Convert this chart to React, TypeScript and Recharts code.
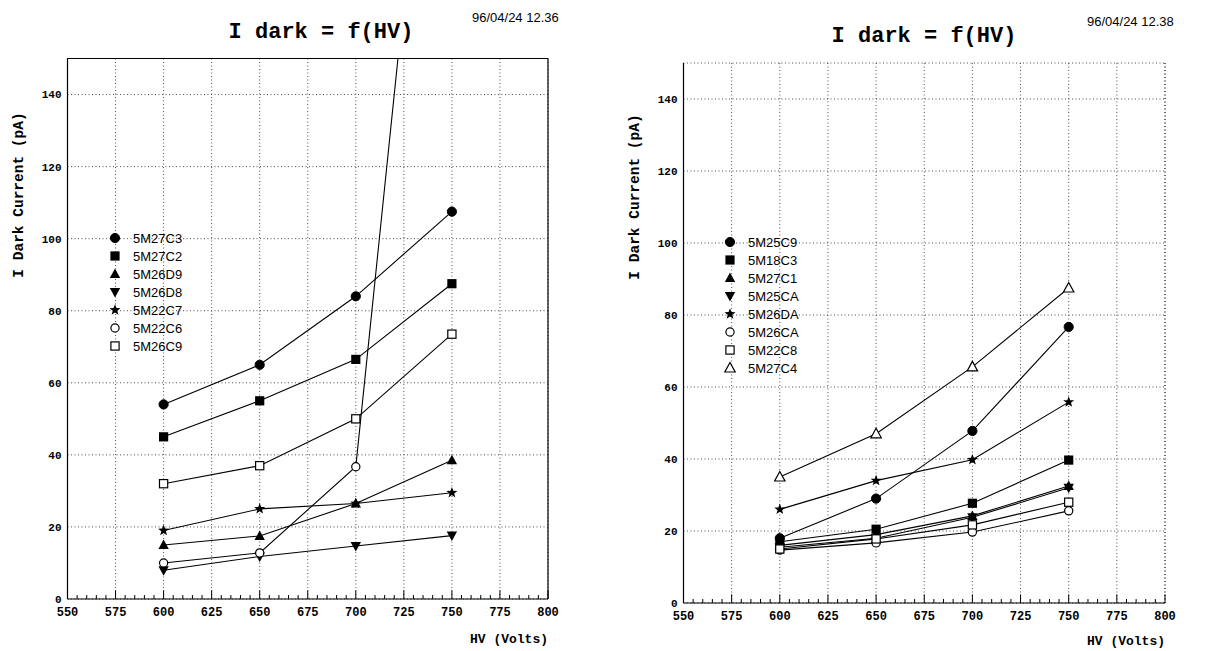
import React from "react";
import { LineChart, Line, XAxis, YAxis, CartesianGrid, ReferenceLine } from "recharts";

// ---- data ----
const hv = [600, 650, 700, 750];
const xTicks = [550, 575, 600, 625, 650, 675, 700, 725, 750, 775, 800];
const xMinorTicks = Array.from({ length: 49 }, (_, i) => 555 + i * 5).filter((v) => v % 25 !== 0);
const yTicks = [0, 20, 40, 60, 80, 100, 120, 140];

const leftNames = ["5M27C3", "5M27C2", "5M26D9", "5M26D8", "5M22C7", "5M22C6", "5M26C9"];
const leftShapes = ["circle", "square", "triUp", "triDown", "star", "openCircle", "openSquare"];
const s5M27C3 = [54, 65, 84, 107.5];
const s5M27C2 = [45, 55, 66.5, 87.5];
const s5M26D9 = [15, 17.5, 26.5, 38.5];
const s5M26D8 = [8, 11.8, 14.7, 17.6];
const s5M22C7 = [19, 25, 26.5, 29.5];
const s5M22C6 = [10, 12.8, 36.7, 295];
const s5M26C9 = [32, 37, 50, 73.5];
const leftSeries = [s5M27C3, s5M27C2, s5M26D9, s5M26D8, s5M22C7, s5M22C6, s5M26C9];

const rightNames = ["5M25C9", "5M18C3", "5M27C1", "5M25CA", "5M26DA", "5M26CA", "5M22C8", "5M27C4"];
const rightShapes = ["circle", "square", "triUp", "triDown", "star", "openCircle", "openSquare", "openTriUp"];
const s5M25C9 = [18, 29, 47.8, 76.7];
const s5M18C3 = [17, 20.5, 27.7, 39.7];
const s5M27C1 = [16, 19, 24.2, 32.5];
const s5M25CA = [15.5, 18, 23.8, 32];
const s5M26DA = [26, 34, 39.8, 55.8];
const s5M26CA = [14.7, 16.7, 19.7, 25.6];
const s5M22C8 = [15, 17.8, 21.7, 28];
const s5M27C4 = [35, 47, 65.6, 87.5];
const rightSeries = [s5M25C9, s5M18C3, s5M27C1, s5M25CA, s5M26DA, s5M26CA, s5M22C8, s5M27C4];

const buildRows = (names: string[], series: number[][]) =>
  hv.map((x, i) => {
    const row: any = { hv: x };
    names.forEach((n, j) => (row[n] = series[j][i]));
    return row;
  });

const leftRows = buildRows(leftNames, leftSeries);
const rightRows = buildRows(rightNames, rightSeries);

// ---- styles ----
const MONO = "'Liberation Mono', 'DejaVu Sans Mono', monospace";
const SANS = "'Liberation Sans', Arial, sans-serif";

function Marker({ shape, cx, cy }: { shape: string; cx: number; cy: number }) {
  if (cx == null || cy == null || isNaN(cx) || isNaN(cy)) return null;
  const r = 4.6;
  const s = 4.6;
  switch (shape) {
    case "circle":
      return <circle cx={cx} cy={cy} r={r} fill="#000" stroke="#000" />;
    case "openCircle":
      return <circle cx={cx} cy={cy} r={r - 0.5} fill="#fff" stroke="#000" strokeWidth={1.2} />;
    case "square":
      return <rect x={cx - s} y={cy - s} width={2 * s} height={2 * s} fill="#000" />;
    case "openSquare":
      return <rect x={cx - s + 0.5} y={cy - s + 0.5} width={2 * s - 1} height={2 * s - 1} fill="#fff" stroke="#000" strokeWidth={1.2} />;
    case "triUp":
      return <polygon points={`${cx},${cy - 5.5} ${cx + 5.2},${cy + 4} ${cx - 5.2},${cy + 4}`} fill="#000" />;
    case "openTriUp":
      return <polygon points={`${cx},${cy - 5.5} ${cx + 5.2},${cy + 4} ${cx - 5.2},${cy + 4}`} fill="#fff" stroke="#000" strokeWidth={1.2} />;
    case "triDown":
      return <polygon points={`${cx},${cy + 5.5} ${cx + 5.2},${cy - 4} ${cx - 5.2},${cy - 4}`} fill="#000" />;
    case "star": {
      const pts: string[] = [];
      for (let k = 0; k < 10; k++) {
        const rad = k % 2 === 0 ? 5.8 : 2.4;
        const a = -Math.PI / 2 + (k * Math.PI) / 5;
        pts.push(`${cx + rad * Math.cos(a)},${cy + rad * Math.sin(a)}`);
      }
      return <polygon points={pts.join(" ")} fill="#000" />;
    }
    default:
      return null;
  }
}

const dotFor = (shape: string) => (p: any) => (
  <g key={`d-${shape}-${p.index}`}>
    <Marker shape={shape} cx={p.cx} cy={p.cy} />
  </g>
);

const xTickStyle = { fontFamily: MONO, fontWeight: 700, fontSize: 12, fill: "#000" };
const yTickStyle = { fontFamily: MONO, fontWeight: 700, fontSize: 11, fill: "#000" };

function Panel({
  rows,
  names,
  shapes,
  margin,
  frame,
}: {
  rows: any[];
  names: string[];
  shapes: string[];
  margin: any;
  frame: boolean;
}) {
  return (
    <LineChart width={606} height={651} data={rows} margin={margin}>
      <CartesianGrid stroke="#222" strokeDasharray="1 2.5" strokeWidth={0.8} />
      <XAxis
        dataKey="hv"
        type="number"
        domain={[550, 800]}
        ticks={xTicks}
        allowDataOverflow
        height={30}
        tickSize={0}
        tickMargin={8}
        tick={xTickStyle}
        axisLine={{ stroke: "#000", strokeWidth: 1.2 }}
        tickLine={false}
      />
      <YAxis
        type="number"
        domain={[0, 150]}
        ticks={yTicks}
        allowDataOverflow
        width={30}
        tickSize={0}
        tickMargin={6}
        tick={yTickStyle}
        axisLine={{ stroke: "#000", strokeWidth: 1.2 }}
        tickLine={false}
      />
      {frame ? <ReferenceLine y={150} stroke="#000" strokeWidth={1.2} /> : null}
      <ReferenceLine
        x={800}
        stroke="#000"
        strokeWidth={frame ? 1.2 : 0.8}
        strokeDasharray={frame ? undefined : "1 2.5"}
      />
      {xMinorTicks.map((v) => (
        <ReferenceLine
          key={`mt-${v}`}
          segment={[{ x: v, y: 0 }, { x: v, y: 1.1 }]}
          stroke="#000"
          strokeWidth={1}
        />
      ))}
      {xTicks.map((v) => (
        <ReferenceLine
          key={`Mt-${v}`}
          segment={[{ x: v, y: 0 }, { x: v, y: 2.4 }]}
          stroke="#000"
          strokeWidth={1}
        />
      ))}
      {names.map((n, i) => (
        <Line
          key={n}
          dataKey={n}
          type="linear"
          stroke="#000"
          strokeWidth={1.1}
          isAnimationActive={false}
          dot={dotFor(shapes[i])}
          activeDot={false}
        />
      ))}
    </LineChart>
  );
}

function LegendBlock({ x, y, names, shapes }: { x: number; y: number; names: string[]; shapes: string[] }) {
  return (
    <g>
      {names.map((n, i) => (
        <g key={n}>
          <Marker shape={shapes[i]} cx={x} cy={y + i * 18} />
          <text x={x + 18} y={y + i * 18 + 4.5} fontFamily={SANS} fontSize={13} fill="#000">
            {n}
          </text>
        </g>
      ))}
    </g>
  );
}

export default function App() {
  return (
    <div style={{ position: "absolute", left: 0, top: 0, width: 1213, height: 651, background: "#fff" }}>
      <div style={{ position: "absolute", left: 0, top: 0 }}>
        <Panel
          rows={leftRows}
          names={leftNames}
          shapes={leftShapes}
          margin={{ top: 58.5, right: 58, bottom: 22, left: 37.5 }}
          frame={true}
        />
      </div>
      <div style={{ position: "absolute", left: 606, top: 0 }}>
        <Panel
          rows={rightRows}
          names={rightNames}
          shapes={rightShapes}
          margin={{ top: 63, right: 47, bottom: 18, left: 47.5 }}
          frame={false}
        />
      </div>
      <svg
        width={1213}
        height={651}
        style={{ position: "absolute", left: 0, top: 0, pointerEvents: "none" }}
      >
        <text x={321} y={38} textAnchor="middle" fontFamily={MONO} fontWeight={700} fontSize={22} fill="#000">
          I dark = f(HV)
        </text>
        <text x={924} y={42} textAnchor="middle" fontFamily={MONO} fontWeight={700} fontSize={22} fill="#000">
          I dark = f(HV)
        </text>
        <text x={472} y={22} fontFamily={SANS} fontSize={13} fill="#000">
          96/04/24  12.36
        </text>
        <text x={1087} y={26} fontFamily={SANS} fontSize={13} fill="#000">
          96/04/24  12.38
        </text>
        <text x={548} y={643} textAnchor="end" fontFamily={MONO} fontWeight={700} fontSize={13} fill="#000">
          HV (Volts)
        </text>
        <text x={1165} y={645} textAnchor="end" fontFamily={MONO} fontWeight={700} fontSize={13} fill="#000">
          HV (Volts)
        </text>
        <text
          x={0}
          y={0}
          transform="translate(23,195) rotate(-90)"
          textAnchor="middle"
          fontFamily={MONO}
          fontWeight={700}
          fontSize={14.5}
          fill="#000"
        >
          I Dark Current (pA)
        </text>
        <text
          x={0}
          y={0}
          transform="translate(639,197) rotate(-90)"
          textAnchor="middle"
          fontFamily={MONO}
          fontWeight={700}
          fontSize={14.5}
          fill="#000"
        >
          I Dark Current (pA)
        </text>
        <LegendBlock x={115} y={238} names={leftNames} shapes={leftShapes} />
        <LegendBlock x={730} y={242} names={rightNames} shapes={rightShapes} />
      </svg>
    </div>
  );
}
